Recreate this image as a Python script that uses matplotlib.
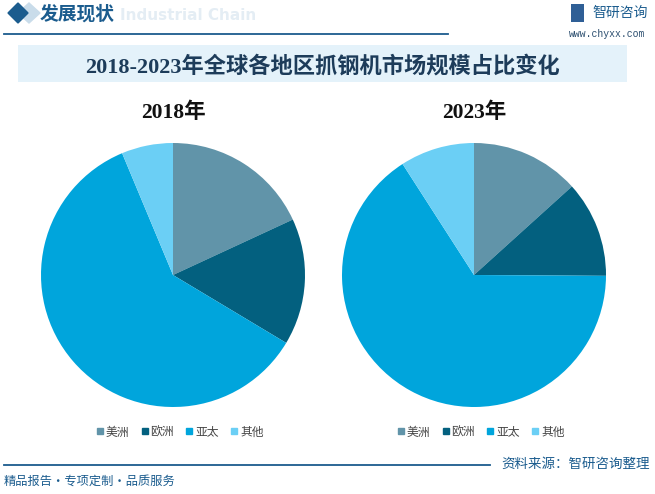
import matplotlib.pyplot as plt
from matplotlib.lines import Line2D
from matplotlib.patches import Rectangle, Polygon

plt.rcParams['font.family'] = ['Noto Sans CJK SC', 'DejaVu Sans']

regions = ['美洲', '欧洲', '亚太', '其他']
share_2018 = [18.1, 15.5, 60.1, 6.3]
share_2023 = [13.3, 11.8, 65.8, 9.1]
years = ['2018年', '2023年']
colors = ['#6194a9', '#03607f', '#00a5dc', '#6bcff5']

W, H = 655, 494
fig = plt.figure(figsize=(W / 100, H / 100), dpi=100)
fig.patch.set_facecolor('white')


def fx(x):
    return x / W


def fy(y):
    return 1 - y / H


navy = '#1b5c8e'

# header
fig.patches.append(Polygon([[fx(29), fy(3)], [fx(40), fy(13)], [fx(29), fy(23)], [fx(18), fy(13)]],
                           closed=True, transform=fig.transFigure, color='#c9dcea', zorder=1))
fig.patches.append(Polygon([[fx(18), fy(3)], [fx(28), fy(13)], [fx(18), fy(23)], [fx(8), fy(13)]],
                           closed=True, transform=fig.transFigure, color=navy, zorder=2))
fig.text(fx(120), fy(16), 'Industrial Chain', fontsize=11, color='#e4edf4', fontweight='bold',
         ha='left', va='center', family='DejaVu Sans', zorder=1)
fig.text(fx(40), fy(14), '发展现状', fontsize=13.5, color=navy, fontweight='bold',
         ha='left', va='center', zorder=3)
fig.add_artist(Line2D([fx(4), fx(448)], [fy(34), fy(34)], color=navy, lw=1.3))
fig.patches.append(Rectangle((fx(571), fy(22)), fx(13), 18 / H, transform=fig.transFigure,
                             facecolor='#2f5f96', edgecolor='none'))
fig.text(fx(592), fy(13), '智研咨询', fontsize=10, color=navy, ha='left', va='center')
fig.text(fx(607), fy(34), 'www.chyxx.com', fontsize=7, color='#2a4d6e', ha='center', va='center',
         family='Liberation Mono')

# title box
fig.patches.append(Rectangle((fx(18), fy(82)), fx(609), 37 / H, transform=fig.transFigure,
                             facecolor='#e4f2fa', edgecolor='none'))
fig.text(fx(323), fy(67), '2018-2023年全球各地区抓钢机市场规模占比变化', fontsize=16, color='#1d3c5a',
         fontweight='bold', ha='center', va='center', family=['Liberation Serif', 'Noto Sans CJK SC'])

# pies
centers = [173, 474]
for cx, yr, vals in zip(centers, years, [share_2018, share_2023]):
    r = 132
    ax = fig.add_axes([fx(cx - r), fy(275 + r), 2 * r / W, 2 * r / H])
    ax.pie(vals, colors=colors, startangle=90, counterclock=False, radius=1,
           wedgeprops=dict(linewidth=0))
    ax.set_xlim(-1, 1)
    ax.set_ylim(-1, 1)
    ax.axis('off')
    fig.text(fx(cx), fy(113), yr, fontsize=15.5, fontweight='bold', color='#111111',
             ha='center', va='center', family=['Liberation Serif', 'Noto Sans CJK SC'])
    handles = [Line2D([], [], marker='s', color=c, linestyle='', markersize=5) for c in colors]
    fig.legend(handles, regions, loc='center', bbox_to_anchor=(fx(cx + 7), fy(432)), ncol=4,
               frameon=False, fontsize=8.5, handlelength=0.6, handletextpad=0.2,
               columnspacing=1.0, labelcolor='#444444')

# footer
fig.add_artist(Line2D([fx(4), fx(490)], [fy(465), fy(465)], color=navy, lw=1.3))
fig.text(fx(650), fy(464), '资料来源：智研咨询整理', fontsize=9.7, color=navy, ha='right', va='center')
fig.text(fx(4), fy(481), '精品报告·专项定制·品质服务', fontsize=8.8, color=navy, ha='left', va='center')

fig.savefig('out.png', dpi=100)
